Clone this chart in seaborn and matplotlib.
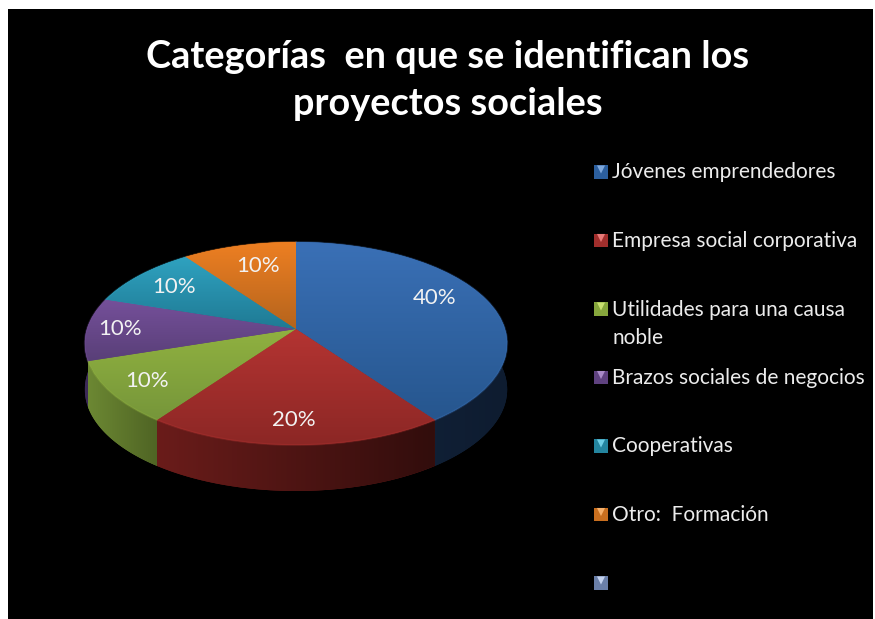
import numpy as np
import matplotlib
matplotlib.use('Agg')
import matplotlib.pyplot as plt
from matplotlib.patches import Polygon
from matplotlib.transforms import Transform
import seaborn as sns

# chart data
categories = ['Jóvenes emprendedores', 'Empresa social corporativa',
              'Utilidades para una causa\nnoble', 'Brazos sociales de negocios',
              'Cooperativas', 'Otro:  Formación', '']
values = [40, 20, 10, 10, 10, 10, 0]
title = 'Categorías  en que se identifican los\nproyectos sociales'

# colours, top of slice / bottom of slice
top_light = ['#3a70b6', '#b43432', '#90b140', '#75509a', '#2fa2c0', '#ed7f22', '#7f93bd']
top_dark = ['#26568e', '#8c2725', '#76963a', '#593f78', '#1f7a94', '#b5641d', '#7f93bd']
# colours of the rim, left / right
side_left = ['#14263f', '#6a1c1a', '#6c8833', '#3c2a58', '#1f7a94', '#b5641d', '#7f93bd']
side_right = ['#0e1c30', '#320d0c', '#4f6424', '#3c2a58', '#1f7a94', '#b5641d', '#7f93bd']
# legend key, body / light triangle
key_body = ['#2c5f9e', '#a02e2c', '#86a63c', '#5f4280', '#24859f', '#c96f1f', '#6a7fa8']
key_tint = ['#7fa8dc', '#e87a78', '#c8e070', '#a98ac8', '#70cfe6', '#f6b06a', '#c3d2ee']
draw_order = [5, 4, 3, 0, 2, 1]

# label positions in pixels
pct_x = [435, 294, 147, 120, 174, 258]
pct_y = [298, 420, 381, 329, 287, 266]
legend_x = 601
legend_y0 = 172
legend_step = 68.5

# pie geometry in pixels
CX, CY = 296, 329
RX, RY = 209, 99.4
P = 0.143
DEPTH = 46


class Perspective(Transform):
    input_dims = 2
    output_dims = 2

    def transform_non_affine(self, values):
        values = np.asarray(values)
        u, v = values[:, 0], values[:, 1]
        den = 1 + P * v
        return np.column_stack([CX + RX * u / den, CY - RY * v / den])


def project(theta):
    t = np.radians(theta)
    return Perspective().transform_non_affine(np.column_stack([np.cos(t), np.sin(t)]))


def gradient(ax, c0, c1, extent, clip, horizontal=False, zorder=2):
    a = np.array(matplotlib.colors.to_rgb(c0))
    b = np.array(matplotlib.colors.to_rgb(c1))
    k = np.linspace(0, 1, 64)[:, None]
    img = (a + (b - a) * k)[:, None, :]
    if horizontal:
        img = img.transpose(1, 0, 2)
    im = ax.imshow(img, extent=extent, aspect='auto', interpolation='bilinear', zorder=zorder)
    im.set_clip_path(clip)


sns.set_theme(style='white')
plt.rcParams['font.family'] = ['Lato', 'DejaVu Sans']

fig = plt.figure(figsize=(8.75, 6.19), dpi=100, facecolor='white')
ax = fig.add_axes([8 / 875, 0, 865 / 875, 610 / 619])
persp = Perspective() + ax.transData

wedges, _, pcts = ax.pie(values, colors=top_light, startangle=90, counterclock=False,
                         autopct=lambda p: f'{p:.0f}%' if p > 0 else '',
                         wedgeprops={'transform': persp, 'linewidth': 0, 'zorder': 3},
                         textprops={'color': '#f2f2f2', 'fontsize': 16, 'zorder': 6})

# rim first, back slices under the front ones
for n, i in enumerate(draw_order):
    w = wedges[i]
    rim = project(np.linspace(w.theta1, w.theta2, 80))
    low = rim + [0, DEPTH]
    poly = Polygon(np.vstack([rim, low[::-1]]), closed=True, facecolor=side_left[i],
                   edgecolor='none', zorder=1 + n * 0.1)
    ax.add_patch(poly)
    gradient(ax, side_left[i], side_right[i],
             (rim[:, 0].min(), rim[:, 0].max(), low[:, 1].max(), rim[:, 1].min()),
             poly, horizontal=True, zorder=1.05 + n * 0.1)

# top face
for i, w in enumerate(wedges[:6]):
    rim = project(np.linspace(w.theta1, w.theta2, 80))
    pts = np.vstack([rim, [[CX, CY]]])
    gradient(ax, top_light[i], top_dark[i],
             (pts[:, 0].min(), pts[:, 0].max(), pts[:, 1].max(), pts[:, 1].min()),
             w, zorder=4)
    # soft highlight along the edge
    sns.lineplot(x=rim[:, 0], y=rim[:, 1], ax=ax, color=top_light[i], lw=1.4, alpha=0.3,
                 sort=False, estimator=None, zorder=5, legend=False)

for t, x, y in zip(pcts, pct_x, pct_y):
    t.set_transform(ax.transData)
    t.set_position((x, y))

# legend, one key per category
for i, label in enumerate(categories):
    y = legend_y0 + legend_step * i
    ax.scatter([legend_x], [y], marker='s', s=88, color=key_body[i], edgecolor='none', zorder=5)
    ax.scatter([legend_x], [y - 2.5], marker='v', s=34, color=key_tint[i], edgecolor='none',
               zorder=6)
    ax.text(legend_x + 11, y - 9.5, label, color='#ececec', fontsize=15, va='top', ha='left',
            linespacing=1.5)

ax.text(448, 80.5, title, color='white', fontsize=27.3, fontweight='bold', ha='center', va='center',
        linespacing=1.47)

ax.set_aspect('auto')
ax.set_xlim(8, 873)
ax.set_ylim(619, 9)
ax.set_xticks([])
ax.set_yticks([])
ax.set_frame_on(True)
ax.set_facecolor('black')
sns.despine(ax=ax, left=True, bottom=True, right=True, top=True)

fig.savefig('out.png', dpi=100, facecolor='white')
